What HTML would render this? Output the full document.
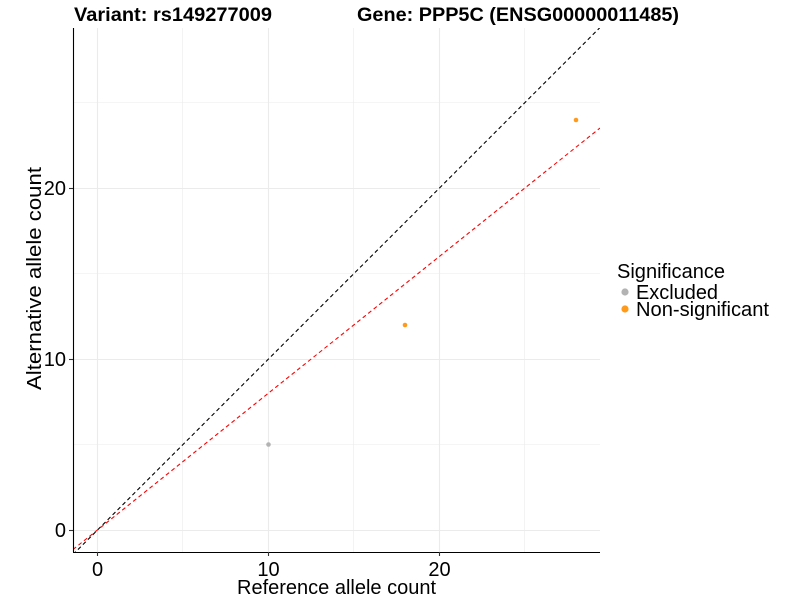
<!DOCTYPE html>
<html><head><meta charset="utf-8"><style>body{margin:0;background:#fff}svg{display:block}text{font-family:"Liberation Sans",Arial,sans-serif}</style></head><body>
<svg width="800" height="600" xmlns="http://www.w3.org/2000/svg">
<defs><clipPath id="c"><rect x="73" y="28" width="527" height="524"/></clipPath></defs>
<g stroke="#ebebeb" stroke-width="0.6">
<line x1="182.5" y1="28" x2="182.5" y2="552"/><line x1="353.5" y1="28" x2="353.5" y2="552"/><line x1="524.5" y1="28" x2="524.5" y2="552"/>
<line x1="73" y1="444.5" x2="600" y2="444.5"/><line x1="73" y1="273.5" x2="600" y2="273.5"/><line x1="73" y1="102.5" x2="600" y2="102.5"/>
</g>
<g stroke="#ebebeb" stroke-width="1.1">
<line x1="97.5" y1="28" x2="97.5" y2="552"/><line x1="268.5" y1="28" x2="268.5" y2="552"/><line x1="439.5" y1="28" x2="439.5" y2="552"/>
<line x1="73" y1="530.5" x2="600" y2="530.5"/><line x1="73" y1="359.5" x2="600" y2="359.5"/><line x1="73" y1="188.5" x2="600" y2="188.5"/>
</g>
<g clip-path="url(#c)">
<line x1="73" y1="554.5" x2="600" y2="27.5" stroke="#000" stroke-width="1.1" stroke-dasharray="4,3"/>
<line x1="73" y1="549.5" x2="600" y2="128" stroke="#ff0000" stroke-width="1.1" stroke-dasharray="4,3"/>
<circle cx="268.5" cy="444.5" r="2.3" fill="#b3b3b3"/>
<circle cx="405" cy="325" r="2.3" fill="#ff9a1a"/>
<circle cx="576" cy="120" r="2.3" fill="#ff9a1a"/>
</g>
<line x1="73.5" y1="28" x2="73.5" y2="552" stroke="#000" stroke-width="1.1"/>
<line x1="73" y1="552.5" x2="600" y2="552.5" stroke="#000" stroke-width="1.1"/>
<g stroke="#333" stroke-width="1.1">
<line x1="69" y1="530.5" x2="73" y2="530.5"/><line x1="69" y1="359.5" x2="73" y2="359.5"/><line x1="69" y1="188.5" x2="73" y2="188.5"/>
<line x1="97.5" y1="552" x2="97.5" y2="556"/><line x1="268.5" y1="552" x2="268.5" y2="556"/><line x1="439.5" y1="552" x2="439.5" y2="556"/>
</g>
<g font-size="20" fill="#000">
<text x="66" y="537" text-anchor="end">0</text><text x="66" y="366" text-anchor="end">10</text><text x="66" y="195" text-anchor="end">20</text>
<text x="97.5" y="576" text-anchor="middle">0</text><text x="268.5" y="576" text-anchor="middle">10</text><text x="439.5" y="576" text-anchor="middle">20</text>
<text x="237" y="594" textLength="199" lengthAdjust="spacingAndGlyphs">Reference allele count</text>
<text transform="translate(41,390) rotate(-90)" textLength="223" lengthAdjust="spacingAndGlyphs">Alternative allele count</text>
<text x="617" y="278" textLength="108" lengthAdjust="spacingAndGlyphs">Significance</text>
<text x="636" y="299" textLength="82" lengthAdjust="spacingAndGlyphs">Excluded</text>
<text x="636" y="316" textLength="133" lengthAdjust="spacingAndGlyphs">Non-significant</text>
</g>
<circle cx="625" cy="292" r="3.6" fill="#b3b3b3"/>
<circle cx="625" cy="309" r="3.6" fill="#ff9a1a"/>
<text x="74" y="21" font-size="19" font-weight="bold" textLength="198" lengthAdjust="spacingAndGlyphs">Variant: rs149277009</text>
<text x="357" y="21" font-size="19" font-weight="bold" textLength="322" lengthAdjust="spacingAndGlyphs">Gene: PPP5C (ENSG00000011485)</text>
</svg>
</body></html>
